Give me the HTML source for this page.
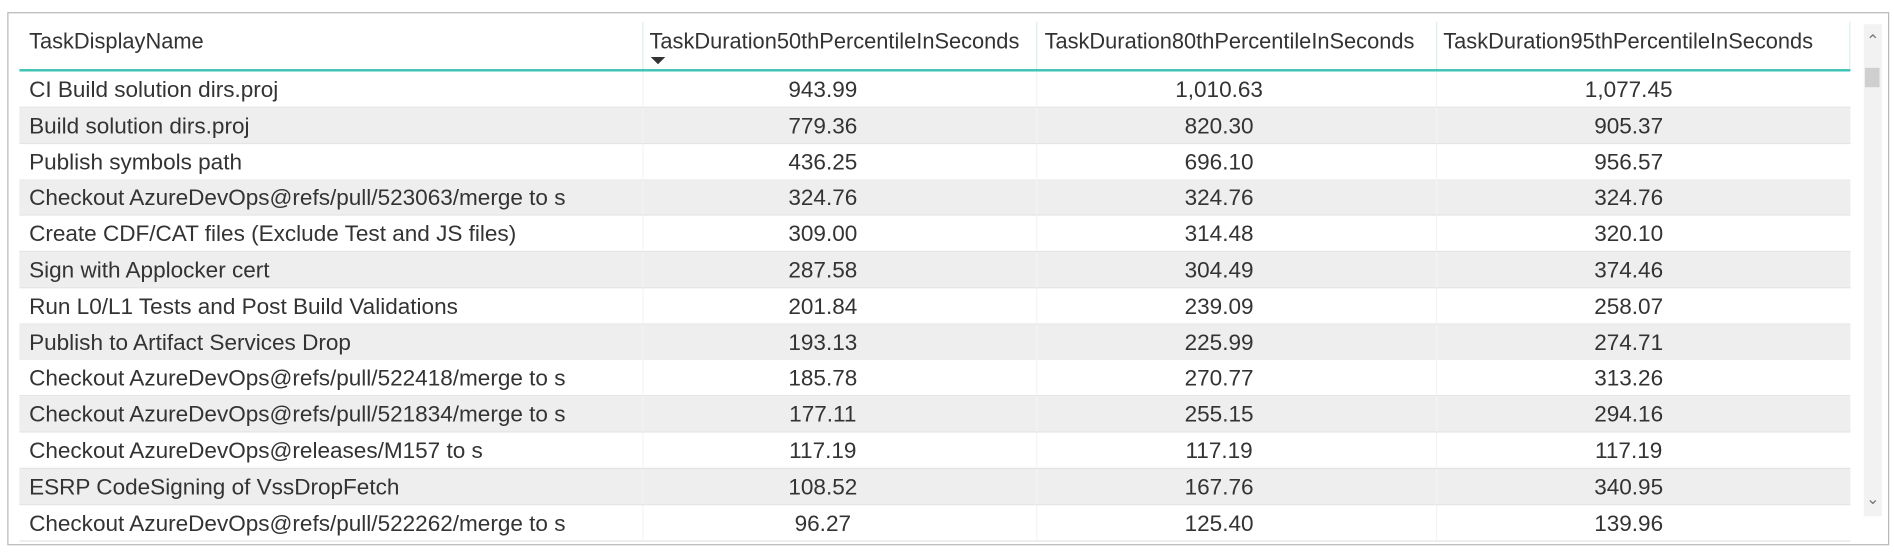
<!DOCTYPE html>
<html><head><meta charset="utf-8"><style>
body{margin:0;background:#fff;width:1894px;height:556px;overflow:hidden;font-family:"Liberation Sans",sans-serif;}
#wrap{position:absolute;left:0;top:0;width:1563px;height:459px;transform:scale(1.2118);transform-origin:0 0;}
#frame{position:absolute;left:6px;top:10px;width:1553px;height:440px;border:1px solid #b8b8b8;box-sizing:border-box;}
.hd{position:absolute;top:24px;font-size:18px;color:#333;white-space:nowrap;}
.vsep{position:absolute;top:18px;width:1px;background:#d8f0ee;}
.row{position:absolute;left:16px;width:1511px;height:30px;border-bottom:1px solid #e4e4e4;box-sizing:border-box;}
.c{position:absolute;top:4px;font-size:18.6px;color:#333;white-space:nowrap;}
</style></head><body>
<div id="wrap">
<div id="frame"></div>
<div class="hd" style="left:24px">TaskDisplayName</div>
<div class="hd" style="left:536px">TaskDuration50thPercentileInSeconds</div>
<div style="position:absolute;left:537px;top:47px;width:0;height:0;border-left:6px solid transparent;border-right:6px solid transparent;border-top:6px solid #333"></div>
<div class="hd" style="left:862px">TaskDuration80thPercentileInSeconds</div>
<div class="hd" style="left:1191px">TaskDuration95thPercentileInSeconds</div>
<div class="vsep" style="left:530px;height:40px"></div>
<div class="vsep" style="left:855px;height:40px"></div>
<div class="vsep" style="left:1185px;height:40px"></div>
<div class="vsep" style="left:1526px;height:40px"></div>
<div style="position:absolute;left:16px;top:57px;width:1511px;height:2px;background:#3cc3b4"></div>
<div id="rows"></div>
<div style="position:absolute;left:1538px;top:20px;width:15px;height:406px;background:#f2f2f2"></div>
<div style="position:absolute;left:1539px;top:56px;width:12px;height:16px;background:#cfcfcf"></div>
<div style="position:absolute;left:1540px;top:26px;font-size:13px;color:#777">&#8963;</div>
<div style="position:absolute;left:1540px;top:404px;font-size:13px;color:#777">&#8964;</div>
</div>
<script>
const names=["CI Build solution dirs.proj","Build solution dirs.proj","Publish symbols path","Checkout AzureDevOps@refs/pull/523063/merge to s","Create CDF/CAT files (Exclude Test and JS files)","Sign with Applocker cert","Run L0/L1 Tests and Post Build Validations","Publish to Artifact Services Drop","Checkout AzureDevOps@refs/pull/522418/merge to s","Checkout AzureDevOps@refs/pull/521834/merge to s","Checkout AzureDevOps@releases/M157 to s","ESRP CodeSigning of VssDropFetch","Checkout AzureDevOps@refs/pull/522262/merge to s"];
const p50=[943.99,779.36,436.25,324.76,309.00,287.58,201.84,193.13,185.78,177.11,117.19,108.52,96.27];
const p80=[1010.63,820.30,696.10,324.76,314.48,304.49,239.09,225.99,270.77,255.15,117.19,167.76,125.40];
const p95=[1077.45,905.37,956.57,324.76,320.10,374.46,258.07,274.71,313.26,294.16,117.19,340.95,139.96];
const fmt=v=>v.toLocaleString('en-US',{minimumFractionDigits:2,maximumFractionDigits:2});
const rows=document.getElementById('rows');
const centers=[679-16,1006-16,1344-16];
names.forEach((n,i)=>{
  const r=document.createElement('div');
  r.className='row';
  r.style.top=(59+i*29.8)+'px';
  r.style.background=i%2?'#eeeeee':'#fff';
  
  
  let h='<div class="c" style="left:8px">'+n+'</div>';
  [p50[i],p80[i],p95[i]].forEach((v,k)=>{h+='<div class="c" style="left:'+centers[k]+'px;transform:translateX(-50%)">'+fmt(v)+'</div>';});
  h+='<div style="position:absolute;left:514px;top:0;width:1px;height:100%;background:#f4f4f4"></div><div style="position:absolute;left:839px;top:0;width:1px;height:100%;background:#f4f4f4"></div><div style="position:absolute;left:1169px;top:0;width:1px;height:100%;background:#f4f4f4"></div>';
  r.innerHTML=h;
  rows.appendChild(r);
});
</script>
</body></html>
